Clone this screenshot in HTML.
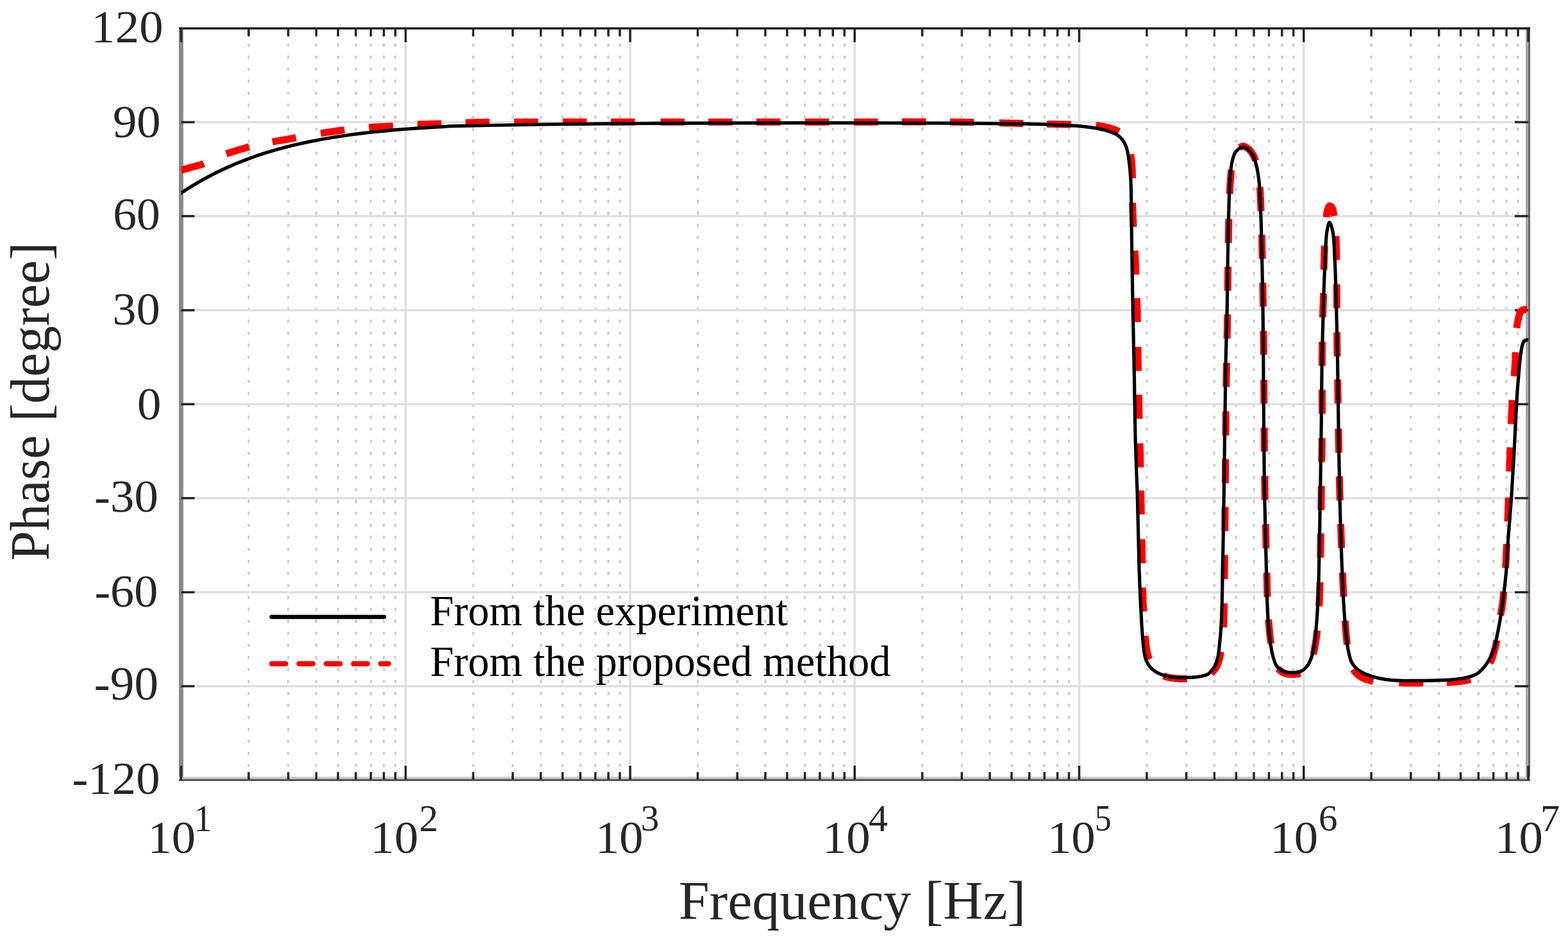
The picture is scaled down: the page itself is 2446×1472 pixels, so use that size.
<!DOCTYPE html>
<html><head><meta charset="utf-8"><title>Phase plot</title>
<style>html,body{margin:0;padding:0;background:#fff;}svg{display:block;}</style>
</head><body>
<svg width="2446" height="1472" viewBox="0 0 2446 1472" font-family='"Liberation Serif", "Times New Roman", serif'>
<rect width="2446" height="1472" fill="#ffffff"/>
<path d="M387.94,49.30V1214.50M449.61,49.30V1214.50M493.37,49.30V1214.50M527.31,49.30V1214.50M555.05,49.30V1214.50M578.50,49.30V1214.50M598.81,49.30V1214.50M616.72,49.30V1214.50M738.19,49.30V1214.50M799.86,49.30V1214.50M843.62,49.30V1214.50M877.56,49.30V1214.50M905.30,49.30V1214.50M928.75,49.30V1214.50M949.06,49.30V1214.50M966.97,49.30V1214.50M1088.44,49.30V1214.50M1150.11,49.30V1214.50M1193.87,49.30V1214.50M1227.81,49.30V1214.50M1255.55,49.30V1214.50M1279.00,49.30V1214.50M1299.31,49.30V1214.50M1317.22,49.30V1214.50M1438.69,49.30V1214.50M1500.36,49.30V1214.50M1544.12,49.30V1214.50M1578.06,49.30V1214.50M1605.80,49.30V1214.50M1629.25,49.30V1214.50M1649.56,49.30V1214.50M1667.47,49.30V1214.50M1788.94,49.30V1214.50M1850.61,49.30V1214.50M1894.37,49.30V1214.50M1928.31,49.30V1214.50M1956.05,49.30V1214.50M1979.50,49.30V1214.50M1999.81,49.30V1214.50M2017.72,49.30V1214.50M2139.19,49.30V1214.50M2200.86,49.30V1214.50M2244.62,49.30V1214.50M2278.56,49.30V1214.50M2306.30,49.30V1214.50M2329.75,49.30V1214.50M2350.06,49.30V1214.50M2367.97,49.30V1214.50" stroke="#cecece" stroke-width="3.3" stroke-dasharray="5 13.72" fill="none"/>
<path d="M632.75,44.00V1216.50M983.00,44.00V1216.50M1333.25,44.00V1216.50M1683.50,44.00V1216.50M2033.75,44.00V1216.50M282.50,190.56H2384.00M282.50,337.12H2384.00M282.50,483.69H2384.00M282.50,630.25H2384.00M282.50,776.81H2384.00M282.50,923.38H2384.00M282.50,1069.94H2384.00" stroke="#dfdfdf" stroke-width="3.5" fill="none"/>
<rect x="279" y="42.5" width="7" height="1175.3" fill="#8a8a8a"/>
<rect x="2380" y="42.5" width="4" height="1175.3" fill="#aaaaaa"/>
<rect x="2384" y="42.5" width="3" height="1175.3" fill="#666666"/>
<rect x="279" y="1211.3" width="2108" height="3.7" fill="#c4c4c4"/>
<rect x="279" y="1215" width="2108" height="2.8" fill="#4a4a4a"/>
<rect x="279" y="42.5" width="2108" height="3.5" fill="#222222"/>
<path d="M282.50,1215.4v-21.5M282.50,44.25v21.5M632.75,1215.4v-21.5M632.75,44.25v21.5M983.00,1215.4v-21.5M983.00,44.25v21.5M1333.25,1215.4v-21.5M1333.25,44.25v21.5M1683.50,1215.4v-21.5M1683.50,44.25v21.5M2033.75,1215.4v-21.5M2033.75,44.25v21.5M2384.00,1215.4v-21.5M2384.00,44.25v21.5M387.94,1215.4v-11.5M387.94,44.25v12.5M449.61,1215.4v-11.5M449.61,44.25v12.5M493.37,1215.4v-11.5M493.37,44.25v12.5M527.31,1215.4v-11.5M527.31,44.25v12.5M555.05,1215.4v-11.5M555.05,44.25v12.5M578.50,1215.4v-11.5M578.50,44.25v12.5M598.81,1215.4v-11.5M598.81,44.25v12.5M616.72,1215.4v-11.5M616.72,44.25v12.5M738.19,1215.4v-11.5M738.19,44.25v12.5M799.86,1215.4v-11.5M799.86,44.25v12.5M843.62,1215.4v-11.5M843.62,44.25v12.5M877.56,1215.4v-11.5M877.56,44.25v12.5M905.30,1215.4v-11.5M905.30,44.25v12.5M928.75,1215.4v-11.5M928.75,44.25v12.5M949.06,1215.4v-11.5M949.06,44.25v12.5M966.97,1215.4v-11.5M966.97,44.25v12.5M1088.44,1215.4v-11.5M1088.44,44.25v12.5M1150.11,1215.4v-11.5M1150.11,44.25v12.5M1193.87,1215.4v-11.5M1193.87,44.25v12.5M1227.81,1215.4v-11.5M1227.81,44.25v12.5M1255.55,1215.4v-11.5M1255.55,44.25v12.5M1279.00,1215.4v-11.5M1279.00,44.25v12.5M1299.31,1215.4v-11.5M1299.31,44.25v12.5M1317.22,1215.4v-11.5M1317.22,44.25v12.5M1438.69,1215.4v-11.5M1438.69,44.25v12.5M1500.36,1215.4v-11.5M1500.36,44.25v12.5M1544.12,1215.4v-11.5M1544.12,44.25v12.5M1578.06,1215.4v-11.5M1578.06,44.25v12.5M1605.80,1215.4v-11.5M1605.80,44.25v12.5M1629.25,1215.4v-11.5M1629.25,44.25v12.5M1649.56,1215.4v-11.5M1649.56,44.25v12.5M1667.47,1215.4v-11.5M1667.47,44.25v12.5M1788.94,1215.4v-11.5M1788.94,44.25v12.5M1850.61,1215.4v-11.5M1850.61,44.25v12.5M1894.37,1215.4v-11.5M1894.37,44.25v12.5M1928.31,1215.4v-11.5M1928.31,44.25v12.5M1956.05,1215.4v-11.5M1956.05,44.25v12.5M1979.50,1215.4v-11.5M1979.50,44.25v12.5M1999.81,1215.4v-11.5M1999.81,44.25v12.5M2017.72,1215.4v-11.5M2017.72,44.25v12.5M2139.19,1215.4v-11.5M2139.19,44.25v12.5M2200.86,1215.4v-11.5M2200.86,44.25v12.5M2244.62,1215.4v-11.5M2244.62,44.25v12.5M2278.56,1215.4v-11.5M2278.56,44.25v12.5M2306.30,1215.4v-11.5M2306.30,44.25v12.5M2329.75,1215.4v-11.5M2329.75,44.25v12.5M2350.06,1215.4v-11.5M2350.06,44.25v12.5M2367.97,1215.4v-11.5M2367.97,44.25v12.5M282.50,190.56h21M2384.00,190.56h-21M282.50,337.12h21M2384.00,337.12h-21M282.50,483.69h21M2384.00,483.69h-21M282.50,630.25h21M2384.00,630.25h-21M282.50,776.81h21M2384.00,776.81h-21M282.50,923.38h21M2384.00,923.38h-21M282.50,1069.94h21M2384.00,1069.94h-21" stroke="#262626" stroke-width="3.5" fill="none"/>
<defs><clipPath id="ax"><rect x="282.5" y="0" width="2101.5" height="1472"/></clipPath></defs>
<g clip-path="url(#ax)">
<path d="M282.0,265.6L284.9,264.8L288.2,263.8L291.2,262.9L294.4,262.0L297.5,261.1L300.5,260.3L303.4,259.5L306.3,258.7L309.2,258.0L312.1,257.2L315.0,256.3L317.8,255.3L318.0,255.2M352.9,239.9L356.0,238.8L358.8,237.9L361.7,237.0L365.1,236.0L368.4,235.0L371.3,234.1L374.2,233.2L377.2,232.3L380.1,231.4L383.1,230.5L386.0,229.7L388.8,228.9M424.9,221.2L428.2,220.6L431.2,220.1L434.3,219.5L437.3,219.0L440.4,218.5L443.4,218.0L446.8,217.4L450.0,216.8L453.3,216.2L456.7,215.6L459.8,215.0L461.8,214.6M500.3,207.9L503.8,207.4L507.0,206.9L510.4,206.4L513.6,205.9L516.9,205.5L520.4,205.0L523.7,204.5L526.9,204.0L530.3,203.5L533.4,203.1L536.8,202.7L537.5,202.6M575.6,198.7L578.7,198.4L581.7,198.2L584.8,198.0L587.8,197.9L590.8,197.7L594.3,197.5L597.8,197.4L601.3,197.2L604.3,197.0L607.3,196.9L610.3,196.7L613.0,196.6M651.2,194.1L654.2,194.0L657.7,193.8L661.1,193.7L664.5,193.6L668.0,193.4L671.4,193.3L674.9,193.2L677.9,193.2L681.0,193.1L684.1,193.0L687.4,192.9L688.7,192.8M726.3,191.4L729.7,191.2L732.8,191.1L735.9,191.0L739.0,190.9L742.0,190.9L745.0,190.8L748.4,190.7L751.8,190.7L755.0,190.6L758.2,190.6L761.4,190.5L763.7,190.5M802.0,190.4L805.3,190.4L808.6,190.4L811.7,190.4L814.8,190.4L817.9,190.3L821.2,190.3L824.5,190.3L827.9,190.3L830.9,190.3L834.0,190.3L837.1,190.3L839.5,190.3M877.8,190.3L881.3,190.3L884.4,190.3L887.6,190.3L890.7,190.3L893.9,190.3L897.1,190.3L900.3,190.3L903.5,190.3L906.8,190.3L910.0,190.3L913.3,190.3L915.3,190.3M952.9,190.3L956.0,190.3L959.3,190.3L962.7,190.3L966.1,190.3L969.4,190.3L972.8,190.3L976.1,190.3L979.5,190.3L982.8,190.3L986.2,190.3L989.5,190.3L990.4,190.3M1030.4,190.3L1033.6,190.3L1036.9,190.3L1040.3,190.3L1043.8,190.3L1047.2,190.3L1050.6,190.3L1054.1,190.3L1057.6,190.3L1061.1,190.3L1064.1,190.3L1067.1,190.3L1067.9,190.3M1105.0,190.3L1108.1,190.3L1111.2,190.3L1114.4,190.3L1117.5,190.3L1120.6,190.3L1123.8,190.3L1126.9,190.3L1130.1,190.3L1133.2,190.3L1136.3,190.3L1139.5,190.3L1142.5,190.3M1179.9,190.3L1183.0,190.3L1186.2,190.3L1189.3,190.3L1192.4,190.3L1195.5,190.3L1198.6,190.3L1201.7,190.3L1204.8,190.3L1207.9,190.3L1211.0,190.3L1214.1,190.3L1217.2,190.3L1217.4,190.3M1255.8,190.3L1259.2,190.3L1262.6,190.3L1266.0,190.3L1269.3,190.3L1272.7,190.3L1276.0,190.3L1279.3,190.3L1282.6,190.3L1285.8,190.3L1289.1,190.3L1292.3,190.3L1293.3,190.3M1331.9,190.3L1335.3,190.3L1338.6,190.3L1341.9,190.3L1345.2,190.3L1348.4,190.3L1351.7,190.2L1355.0,190.2L1358.3,190.2L1361.5,190.2L1364.8,190.2L1368.0,190.2L1369.4,190.2M1406.9,190.1L1410.4,190.1L1413.4,190.1L1416.5,190.1L1419.6,190.1L1422.6,190.1L1425.6,190.1L1429.1,190.1L1432.6,190.1L1436.0,190.1L1439.4,190.1L1442.8,190.1L1444.4,190.1M1481.9,190.2L1485.2,190.3L1488.5,190.3L1491.7,190.3L1494.9,190.3L1498.1,190.4L1501.2,190.4L1504.2,190.5L1507.8,190.5L1511.2,190.5L1514.6,190.6L1517.8,190.7L1519.4,190.7M1558.8,191.6L1561.8,191.7L1565.1,191.8L1568.4,191.9L1571.7,192.0L1575.1,192.0L1578.5,192.1L1581.6,192.2L1584.7,192.3L1587.8,192.3L1590.9,192.4L1594.1,192.5L1596.3,192.5M1633.3,193.4L1636.7,193.5L1640.0,193.5L1643.3,193.6L1646.4,193.7L1649.5,193.7L1652.6,193.8L1656.0,193.9L1659.4,194.0L1662.7,194.0L1665.9,194.1L1669.0,194.1L1670.7,194.2M1709.6,195.5L1713.1,195.9L1716.1,196.4L1719.1,196.9L1722.1,197.5L1725.1,198.1L1728.1,198.9L1731.0,199.6L1734.0,200.5L1737.0,201.4L1739.8,202.4L1742.9,203.8L1745.6,205.2L1745.6,205.2M1763.8,240.6L1764.2,243.6L1764.6,246.8L1765.0,250.2L1765.4,253.7L1765.7,256.9L1765.9,260.1L1766.1,263.4L1766.2,266.5L1766.3,269.8L1766.4,273.1L1766.5,276.5L1766.5,278.0M1766.8,316.3L1766.8,319.6L1766.9,322.8L1767.0,325.9L1767.0,329.0L1767.1,332.0L1767.3,335.5L1767.4,338.6L1767.5,341.6L1767.7,344.6L1767.8,347.7L1768.0,350.7L1768.1,353.7L1768.1,353.7M1770.3,390.9L1770.5,394.0L1770.7,397.0L1770.8,400.1L1771.0,403.1L1771.1,406.1L1771.3,409.1L1771.4,412.6L1771.6,416.0L1771.7,419.5L1771.9,423.0L1772.0,426.5L1772.1,428.3M1773.4,464.9L1773.5,468.1L1773.6,471.1L1773.7,474.1L1773.8,477.1L1773.9,480.1L1774.0,483.1L1774.1,486.1L1774.1,489.1L1774.2,492.1L1774.3,495.1L1774.3,498.1L1774.4,501.1L1774.4,502.3M1775.0,541.0L1775.1,544.2L1775.1,547.2L1775.1,550.2L1775.2,553.2L1775.2,556.2L1775.3,559.2L1775.3,562.2L1775.4,565.2L1775.4,568.2L1775.5,571.2L1775.6,574.2L1775.6,577.2L1775.6,578.4M1776.3,615.5L1776.3,618.8L1776.4,622.3L1776.5,625.7L1776.6,629.2L1776.6,632.7L1776.7,636.2L1776.8,639.2L1776.8,642.3L1776.9,645.3L1777.0,648.3L1777.1,651.3L1777.1,653.0M1778.1,691.3L1778.2,694.5L1778.3,697.5L1778.4,700.5L1778.4,703.5L1778.5,706.5L1778.6,709.5L1778.7,712.5L1778.7,715.5L1778.8,718.5L1778.8,721.5L1778.9,725.0L1779.0,728.5L1779.0,728.7M1779.7,764.8L1779.7,767.9L1779.8,770.9L1779.8,774.0L1779.9,777.0L1779.9,780.0L1780.0,783.0L1780.1,786.5L1780.1,790.0L1780.2,793.4L1780.3,796.9L1780.3,800.4L1780.4,802.2M1781.1,840.8L1781.2,844.0L1781.3,847.0L1781.3,850.0L1781.4,853.0L1781.4,856.0L1781.5,859.0L1781.6,862.0L1781.6,865.0L1781.7,868.1L1781.7,871.1L1781.8,874.2L1781.8,877.2L1781.8,878.2M1782.4,916.3L1782.5,919.3L1782.6,922.7L1782.7,926.1L1782.8,929.4L1782.9,932.7L1783.0,936.1L1783.2,939.3L1783.3,942.6L1783.5,945.8L1783.6,949.0L1783.8,952.2L1783.9,953.7M1786.4,991.4L1786.7,994.6L1787.0,997.9L1787.3,1001.1L1787.6,1004.2L1788.0,1007.7L1788.4,1011.0L1788.9,1014.1L1789.6,1017.6L1790.5,1020.7L1791.4,1023.6L1792.6,1026.8L1793.2,1028.1M1814.8,1053.8L1817.8,1054.9L1820.8,1055.8L1823.8,1056.4L1826.9,1057.0L1830.0,1057.4L1833.0,1057.8L1836.0,1058.1L1839.1,1058.3L1842.1,1058.4L1845.1,1058.4L1848.2,1058.3L1851.2,1058.2L1851.7,1058.2M1889.4,1049.8L1891.7,1047.8L1893.7,1045.6L1895.6,1043.2L1897.3,1040.3L1898.7,1037.5L1899.9,1034.6L1901.0,1031.6L1901.9,1028.6L1902.8,1025.3L1903.4,1022.4L1904.0,1019.4L1904.5,1016.5M1908.5,978.3L1908.6,975.3L1908.8,971.9L1909.0,968.4L1909.1,965.4L1909.2,962.2L1909.3,959.1L1909.4,956.0L1909.5,952.9L1909.5,949.8L1909.6,946.6L1909.6,943.4L1909.6,940.8M1910.0,903.0L1910.0,899.6L1910.1,896.5L1910.1,893.2L1910.1,890.0L1910.2,886.6L1910.2,883.2L1910.2,879.8L1910.3,876.3L1910.3,873.3L1910.3,870.2L1910.4,867.1L1910.4,865.5M1910.7,828.1L1910.8,824.9L1910.8,821.6L1910.8,818.3L1910.9,814.9L1910.9,811.6L1910.9,808.3L1911.0,805.0L1911.0,801.7L1911.0,798.6L1911.0,795.5L1911.1,792.2L1911.1,790.6M1911.4,753.4L1911.4,750.1L1911.4,747.0L1911.5,743.9L1911.5,740.8L1911.5,737.7L1911.5,734.6L1911.6,731.5L1911.6,728.4L1911.6,725.2L1911.6,722.1L1911.7,718.9L1911.7,715.9M1912.0,679.0L1912.0,675.6L1912.0,672.5L1912.1,669.4L1912.1,666.3L1912.1,663.3L1912.2,660.3L1912.2,657.3L1912.2,653.8L1912.3,650.3L1912.3,646.8L1912.3,643.4L1912.3,641.5M1912.8,603.3L1912.9,599.9L1912.9,596.7L1913.0,593.5L1913.0,590.4L1913.1,587.2L1913.1,584.1L1913.2,580.9L1913.2,577.8L1913.3,574.7L1913.4,571.6L1913.4,568.6L1913.5,565.8M1914.1,527.8L1914.2,524.4L1914.3,521.1L1914.3,517.9L1914.4,514.6L1914.4,511.4L1914.5,508.2L1914.5,505.0L1914.6,501.8L1914.6,498.4L1914.7,495.1L1914.7,491.9L1914.7,490.3M1915.2,453.5L1915.2,450.3L1915.2,446.9L1915.3,443.5L1915.3,440.1L1915.4,436.7L1915.4,433.3L1915.5,429.9L1915.5,426.5L1915.6,423.0L1915.6,419.5L1915.7,416.5L1915.7,416.0M1916.2,378.9L1916.2,375.7L1916.3,372.7L1916.3,369.7L1916.4,366.6L1916.5,363.2L1916.5,359.7L1916.6,356.2L1916.7,352.8L1916.7,349.4L1916.8,346.1L1916.9,342.8L1917.0,341.4M1918.2,302.5L1918.4,299.1L1918.5,295.7L1918.7,292.4L1918.9,289.2L1919.1,286.0L1919.3,283.0L1919.5,279.4L1919.8,276.0L1920.1,272.6L1920.4,269.3L1920.6,266.2L1920.8,265.1M1933.6,230.1L1936.4,228.6L1939.5,228.0L1942.8,229.0L1945.6,230.7L1948.1,232.7L1950.5,235.1L1952.4,237.5L1954.0,240.2L1955.5,243.0L1957.0,246.2L1958.2,249.4L1958.6,250.8M1965.3,291.7L1965.6,294.9L1965.8,298.3L1966.0,301.7L1966.1,304.8L1966.3,307.8L1966.4,311.0L1966.5,314.1L1966.7,317.3L1966.8,320.5L1966.9,323.7L1967.0,326.9L1967.1,329.2M1968.3,366.1L1968.4,369.4L1968.5,372.4L1968.5,375.5L1968.6,378.6L1968.7,381.7L1968.8,384.8L1968.8,388.0L1968.9,391.2L1969.0,394.4L1969.1,397.8L1969.1,401.1L1969.2,403.6M1969.9,440.7L1969.9,444.0L1970.0,447.1L1970.0,450.2L1970.1,453.2L1970.1,456.3L1970.2,459.4L1970.2,462.5L1970.3,465.5L1970.3,468.5L1970.4,471.6L1970.4,474.6L1970.5,478.0L1970.5,478.1M1970.9,515.7L1970.9,518.9L1971.0,522.2L1971.0,525.6L1971.0,529.0L1971.1,532.4L1971.1,535.5L1971.1,538.6L1971.1,541.7L1971.2,545.0L1971.2,548.3L1971.2,551.7L1971.2,553.2M1971.6,592.2L1971.6,595.5L1971.6,598.9L1971.6,602.4L1971.6,605.9L1971.7,608.9L1971.7,611.9L1971.7,615.0L1971.7,618.1L1971.7,621.2L1971.8,624.4L1971.8,627.5L1971.8,629.6M1972.0,666.8L1972.1,670.3L1972.1,673.5L1972.1,676.8L1972.1,680.1L1972.2,683.4L1972.2,686.6L1972.2,689.9L1972.2,693.1L1972.3,696.4L1972.3,699.6L1972.3,702.8L1972.3,704.3M1972.7,742.2L1972.8,745.4L1972.8,748.7L1972.9,751.9L1972.9,755.1L1973.0,758.3L1973.0,761.5L1973.1,764.9L1973.1,768.2L1973.2,771.6L1973.2,774.9L1973.3,778.3L1973.3,779.6M1974.2,817.5L1974.3,820.6L1974.3,823.7L1974.4,826.8L1974.5,829.8L1974.6,833.3L1974.7,836.7L1974.8,840.2L1974.8,843.6L1974.9,846.9L1975.0,850.2L1975.1,853.5L1975.2,855.0M1976.1,893.4L1976.2,896.9L1976.3,900.1L1976.3,903.2L1976.4,906.2L1976.5,909.7L1976.6,913.1L1976.6,916.4L1976.7,919.7L1976.8,923.0L1976.9,926.2L1977.0,929.3L1977.1,930.9M1978.8,966.1L1979.0,969.3L1979.2,972.4L1979.5,975.5L1979.8,978.6L1980.1,981.7L1980.4,984.8L1980.7,987.8L1981.0,990.8L1981.4,994.2L1981.9,997.6L1982.4,1001.1L1982.7,1003.4M1993.8,1042.5L1996.2,1045.1L1998.6,1047.0L2001.2,1048.6L2004.4,1050.0L2007.3,1050.8L2010.3,1051.3L2013.5,1051.6L2016.5,1051.6L2019.6,1051.5L2022.7,1051.1L2025.7,1050.5L2028.3,1049.7M2048.9,1020.1L2049.6,1016.9L2050.2,1013.8L2050.8,1010.7L2051.3,1007.6L2051.9,1004.5L2052.4,1001.2L2053.0,997.7L2053.4,994.3L2053.8,991.3L2054.2,988.3L2054.5,985.2L2054.8,983.0M2057.7,945.4L2057.9,942.1L2058.0,938.9L2058.2,935.7L2058.3,932.4L2058.4,929.1L2058.5,925.7L2058.6,922.7L2058.7,919.6L2058.8,916.4L2058.9,913.2L2059.0,909.9L2059.0,907.9M2059.8,869.3L2059.9,865.8L2059.9,862.3L2060.0,859.3L2060.0,856.2L2060.1,853.1L2060.1,850.0L2060.1,846.9L2060.2,843.7L2060.2,840.6L2060.3,837.4L2060.3,834.2L2060.3,831.8M2060.8,795.3L2060.9,792.2L2060.9,789.1L2060.9,786.1L2061.0,783.0L2061.0,780.0L2061.1,776.5L2061.1,773.5L2061.1,770.5L2061.2,767.5L2061.2,764.5L2061.3,761.4L2061.3,758.4L2061.3,757.8M2061.8,720.4L2061.8,717.3L2061.9,714.3L2061.9,711.2L2062.0,708.2L2062.0,705.2L2062.0,702.2L2062.1,699.2L2062.1,695.7L2062.1,692.2L2062.2,688.7L2062.2,685.3L2062.2,682.9M2062.5,645.2L2062.5,642.1L2062.5,639.0L2062.5,635.8L2062.5,632.7L2062.5,629.5L2062.4,626.4L2062.4,623.3L2062.4,620.2L2062.4,617.1L2062.4,614.0L2062.4,610.9L2062.4,607.8L2062.4,607.7M2062.4,570.4L2062.4,567.1L2062.4,564.0L2062.4,560.9L2062.4,557.8L2062.4,554.4L2062.5,551.1L2062.5,547.9L2062.5,544.7L2062.5,541.5L2062.6,538.4L2062.6,535.3L2062.6,532.9M2063.3,494.8L2063.4,491.5L2063.6,488.4L2063.7,485.4L2063.8,481.9L2063.9,478.5L2064.1,475.1L2064.2,471.7L2064.3,468.4L2064.5,464.9L2064.6,461.5L2064.6,458.0L2064.7,457.4M2065.2,420.6L2065.3,417.5L2065.3,414.5L2065.4,411.5L2065.5,408.4L2065.6,405.4L2065.7,402.4L2065.8,399.3L2065.9,396.3L2066.0,393.3L2066.1,389.8L2066.2,386.3L2066.4,383.1M2069.1,338.7L2069.4,335.5L2069.8,332.5L2070.4,329.3L2071.2,326.4L2072.2,323.4L2074.0,321.0L2076.7,322.1L2078.5,324.8L2079.4,327.8L2080.1,331.2L2080.7,334.2L2081.2,337.0M2083.9,368.1L2084.0,371.3L2084.2,374.3L2084.3,377.4L2084.4,380.7L2084.5,384.2L2084.6,387.6L2084.7,390.9L2084.8,393.9L2084.9,397.0L2084.9,400.3L2084.9,403.6L2085.0,405.5M2085.2,443.3L2085.2,446.5L2085.2,449.7L2085.2,452.8L2085.3,455.9L2085.3,459.0L2085.3,462.0L2085.3,465.0L2085.3,468.0L2085.4,471.1L2085.4,474.1L2085.4,477.1L2085.4,480.2L2085.4,480.7M2085.6,518.3L2085.7,521.4L2085.7,524.9L2085.7,528.3L2085.7,531.7L2085.8,535.1L2085.8,538.6L2085.9,541.6L2085.9,545.0L2085.9,548.4L2086.0,551.7L2086.0,554.9L2086.0,555.7M2086.7,591.8L2086.7,595.1L2086.8,598.1L2086.8,601.5L2086.9,604.6L2086.9,607.7L2087.0,611.0L2087.0,614.3L2087.1,617.7L2087.1,620.7L2087.2,623.9L2087.2,627.0L2087.3,629.3M2087.9,668.3L2088.0,671.6L2088.0,674.7L2088.1,677.9L2088.1,681.1L2088.2,684.3L2088.2,687.5L2088.3,690.8L2088.4,694.0L2088.4,697.3L2088.5,700.5L2088.5,703.8L2088.6,705.8M2089.3,742.8L2089.4,745.9L2089.5,749.0L2089.5,752.2L2089.6,755.3L2089.7,758.4L2089.8,761.5L2089.9,764.6L2089.9,767.6L2090.0,770.7L2090.1,774.1L2090.2,777.6L2090.3,780.3M2091.4,817.2L2091.5,820.6L2091.7,823.9L2091.8,827.1L2091.9,830.4L2092.0,833.7L2092.1,837.0L2092.2,840.3L2092.4,843.5L2092.5,846.8L2092.6,850.1L2092.7,853.3L2092.8,854.6M2094.3,892.9L2094.4,896.0L2094.6,899.4L2094.7,902.8L2094.8,906.1L2095.0,909.3L2095.1,912.6L2095.3,915.7L2095.4,918.8L2095.6,921.8L2095.7,925.2L2095.9,928.5L2096.0,930.4M2098.2,967.8L2098.4,970.8L2098.6,974.0L2098.9,977.2L2099.1,980.3L2099.4,983.4L2099.7,986.5L2100.0,989.6L2100.3,992.8L2100.6,996.0L2100.9,999.2L2101.2,1002.3L2101.5,1005.1M2110.9,1043.7L2112.8,1046.4L2114.7,1048.8L2116.8,1050.9L2119.1,1052.9L2121.6,1054.7L2124.4,1056.4L2127.4,1057.9L2130.6,1059.2L2133.5,1060.1L2136.5,1061.0L2139.6,1061.8L2142.1,1062.4M2182.5,1064.7L2185.8,1064.8L2189.2,1064.9L2192.6,1064.9L2196.1,1065.0L2199.1,1065.0L2202.3,1065.0L2205.5,1065.0L2208.7,1065.0L2212.1,1065.0L2215.2,1064.9L2218.2,1064.9L2220.0,1064.9M2256.8,1064.0L2260.2,1063.9L2263.6,1063.7L2267.0,1063.5L2270.3,1063.3L2273.6,1063.0L2276.6,1062.6L2279.7,1062.2L2282.9,1061.8L2285.9,1061.3L2288.9,1060.8L2292.2,1059.9L2293.9,1059.4M2324.0,1034.0L2325.6,1030.9L2326.8,1028.2L2327.9,1025.4L2328.8,1022.5L2329.8,1019.5L2330.6,1016.5L2331.6,1013.2L2332.5,1009.9L2333.2,1006.9L2333.9,1003.6L2334.5,1000.4L2334.9,998.3M2340.8,959.5L2341.3,956.4L2341.9,952.9L2342.5,949.6L2343.1,946.4L2343.6,943.3L2344.0,940.2L2344.4,936.9L2344.7,933.7L2345.0,930.3L2345.3,927.2L2345.5,924.1L2345.7,922.3M2348.4,885.7L2348.7,882.4L2348.9,879.4L2349.1,876.4L2349.2,873.2L2349.4,869.9L2349.6,866.6L2349.8,863.6L2349.9,860.5L2350.1,857.3L2350.2,854.0L2350.4,850.7L2350.5,848.3M2351.9,813.2L2352.0,810.1L2352.1,806.9L2352.2,803.8L2352.4,800.7L2352.5,797.6L2352.6,794.5L2352.7,791.0L2352.8,787.6L2353.0,784.1L2353.1,781.1L2353.2,778.1L2353.2,775.8M2354.5,735.2L2354.6,732.2L2354.8,728.7L2354.9,725.3L2355.0,721.8L2355.1,718.4L2355.2,715.0L2355.4,711.9L2355.5,708.7L2355.6,705.6L2355.7,702.5L2355.8,699.3L2355.9,697.7M2357.3,661.3L2357.4,658.1L2357.6,654.8L2357.7,651.6L2357.9,648.4L2358.0,645.2L2358.2,642.0L2358.4,638.8L2358.6,635.7L2358.7,632.6L2358.9,629.6L2359.1,626.2L2359.3,623.8M2362.0,586.7L2362.3,583.4L2362.5,580.0L2362.8,577.0L2363.0,573.9L2363.2,570.7L2363.4,567.5L2363.6,564.3L2363.8,560.8L2363.9,557.8L2364.0,554.6L2364.1,551.4L2364.2,549.3M2366.0,511.7L2366.4,508.3L2366.9,505.0L2367.4,502.0L2368.1,498.8L2368.8,495.8L2369.6,492.7L2370.4,489.5L2371.7,486.4L2374.0,484.1L2377.0,482.8L2380.0,482.7L2381.9,483.0" stroke="#ff0000" stroke-width="11" fill="none" stroke-linejoin="round"/>
<path d="M276.50,304.83C278.50,303.52 284.48,299.52 288.50,296.95C292.48,294.41 296.48,291.92 300.50,289.50C304.48,287.10 308.48,284.76 312.50,282.48C316.49,280.22 320.49,278.02 324.50,275.89C328.49,273.77 332.49,271.70 336.50,269.70C340.49,267.71 344.49,265.79 348.50,263.91C352.49,262.05 356.49,260.25 360.50,258.51C364.49,256.77 368.49,255.09 372.50,253.46C376.49,251.84 380.49,250.28 384.50,248.76C388.49,247.25 392.49,245.80 396.50,244.39C400.49,242.98 404.49,241.63 408.50,240.32C412.49,239.02 416.49,237.76 420.50,236.54C424.49,235.33 428.49,234.16 432.50,233.04C436.49,231.91 440.50,230.83 444.50,229.78C448.50,228.74 452.50,227.74 456.50,226.77C460.50,225.80 464.50,224.87 468.50,223.97C472.50,223.08 476.50,222.22 480.50,221.38C484.50,220.55 488.50,219.76 492.50,218.99C496.50,218.22 500.50,217.48 504.50,216.77C508.50,216.06 512.50,215.37 516.50,214.71C520.50,214.05 524.50,213.42 528.50,212.81C532.50,212.20 536.50,211.62 540.50,211.05C544.50,210.49 548.50,209.95 552.50,209.43C556.50,208.91 560.50,208.41 564.50,207.92C568.50,207.44 572.50,206.98 576.50,206.53C580.50,206.09 584.50,205.66 588.50,205.25C592.50,204.83 596.50,204.44 600.50,204.06C604.50,203.67 608.50,203.31 612.50,202.96C616.50,202.60 620.50,202.27 624.50,201.94C628.50,201.61 632.50,201.30 636.50,201.00C640.50,200.70 644.50,200.41 648.50,200.13C652.50,199.85 656.50,199.59 660.50,199.33C664.50,199.07 668.50,198.82 672.50,198.59C676.50,198.35 680.50,198.12 684.50,197.90C688.50,197.68 693.70,197.53 696.50,197.27C698.02,197.13 698.11,196.95 700.00,196.80C707.82,196.20 738.44,195.92 760.60,195.50C787.51,194.99 816.37,194.45 850.00,194.00C893.57,193.42 950.00,192.85 1000.00,192.50C1050.00,192.15 1100.00,192.03 1150.00,191.90C1200.00,191.77 1250.00,191.68 1300.00,191.70C1350.00,191.72 1400.00,191.75 1450.00,192.00C1500.00,192.25 1561.26,192.37 1600.00,193.20C1624.51,193.73 1643.68,194.50 1660.00,195.30C1671.25,195.85 1679.44,196.19 1688.50,197.10C1696.81,197.94 1704.85,198.95 1712.30,200.40C1719.03,201.71 1725.72,203.23 1731.30,205.20C1735.96,206.84 1740.24,208.49 1743.70,210.90C1746.77,213.03 1749.21,215.73 1751.30,218.50C1753.30,221.15 1754.83,224.09 1756.10,227.10C1757.37,230.12 1758.07,232.86 1758.90,236.60C1760.06,241.81 1761.00,248.86 1761.80,255.60C1762.71,263.21 1763.34,269.10 1763.90,280.00C1765.02,302.03 1764.95,346.58 1765.50,380.00C1766.05,413.58 1766.56,447.50 1767.20,481.00C1767.83,514.17 1768.67,546.92 1769.30,580.00C1769.94,613.25 1770.15,647.16 1771.00,680.00C1771.83,711.90 1773.32,741.35 1774.30,774.30C1775.38,810.57 1775.92,854.33 1777.10,888.60C1778.07,916.63 1779.41,945.38 1780.50,965.00C1781.18,977.30 1781.68,985.67 1782.50,995.00C1783.22,1003.18 1783.84,1011.59 1785.00,1018.00C1785.86,1022.71 1786.56,1026.38 1788.10,1030.10C1789.57,1033.65 1791.61,1037.12 1793.90,1039.90C1796.02,1042.48 1798.35,1044.47 1801.20,1046.40C1804.46,1048.61 1808.36,1050.58 1812.60,1052.10C1817.46,1053.84 1823.43,1055.05 1828.90,1055.80C1834.30,1056.54 1839.77,1056.53 1845.20,1056.60C1850.63,1056.67 1856.47,1056.61 1861.50,1056.20C1865.87,1055.84 1869.81,1055.35 1873.70,1054.50C1877.39,1053.69 1881.19,1053.16 1884.30,1051.30C1887.48,1049.40 1890.30,1046.15 1892.50,1043.10C1894.64,1040.13 1896.08,1036.82 1897.40,1033.30C1898.82,1029.52 1899.79,1025.49 1900.60,1021.10C1901.53,1016.09 1901.80,1010.69 1902.40,1004.80C1903.10,997.84 1903.91,990.76 1904.50,982.00C1905.30,970.13 1905.73,958.87 1906.30,940.00C1907.47,901.05 1908.44,822.31 1909.40,760.90C1910.42,695.86 1911.19,611.62 1912.20,560.00C1912.84,527.63 1913.67,507.86 1914.20,481.00C1914.75,453.06 1914.94,421.61 1915.40,395.50C1915.79,373.43 1916.08,354.76 1916.70,334.40C1917.32,314.03 1917.60,289.04 1919.10,273.30C1920.05,263.30 1920.99,255.55 1922.80,248.90C1924.12,244.04 1925.07,239.97 1927.70,236.70C1930.33,233.43 1934.99,229.54 1938.60,229.30C1941.89,229.08 1945.62,231.76 1948.40,234.20C1951.46,236.89 1953.82,241.04 1955.80,245.20C1958.01,249.85 1959.27,255.10 1960.60,261.00C1962.23,268.22 1963.33,275.91 1964.30,285.50C1965.66,298.98 1966.12,317.19 1966.80,334.40C1967.56,353.63 1968.00,373.43 1968.50,395.50C1969.09,421.61 1969.61,453.06 1970.00,481.00C1970.37,507.85 1970.51,527.63 1970.80,560.00C1971.27,611.62 1971.48,702.64 1972.40,760.90C1973.11,805.76 1974.41,847.93 1975.20,880.00C1975.73,901.74 1976.00,918.55 1976.60,934.70C1977.08,947.55 1977.48,958.30 1978.30,969.30C1979.05,979.38 1979.96,989.13 1981.20,998.20C1982.31,1006.35 1983.30,1014.24 1985.20,1021.30C1986.89,1027.57 1988.40,1034.23 1991.60,1038.60C1994.30,1042.30 1997.96,1044.96 2002.00,1046.70C2006.34,1048.57 2012.21,1049.06 2017.00,1049.00C2021.41,1048.94 2026.00,1048.48 2029.70,1046.70C2033.31,1044.96 2036.39,1041.97 2039.00,1038.60C2041.92,1034.83 2044.06,1030.00 2045.90,1024.80C2048.06,1018.69 2049.28,1011.54 2050.50,1004.00C2051.93,995.19 2052.67,984.74 2053.50,975.10C2054.33,965.47 2054.93,956.96 2055.50,946.20C2056.22,932.60 2056.68,918.98 2057.20,900.00C2058.04,869.55 2058.74,820.83 2059.40,781.00C2060.07,740.84 2060.72,698.41 2061.20,660.00C2061.63,625.08 2061.73,585.00 2062.20,560.00C2062.48,545.00 2062.83,537.57 2063.20,524.00C2063.68,506.33 2064.12,483.35 2064.80,463.00C2065.48,442.61 2066.34,420.12 2067.30,401.80C2068.08,386.85 2068.16,371.13 2069.90,361.10C2070.95,355.04 2072.48,346.85 2074.00,346.80C2075.54,346.75 2077.81,355.00 2079.10,361.10C2081.21,371.09 2081.29,386.85 2082.10,401.80C2083.09,420.12 2083.60,442.62 2084.20,463.00C2084.80,483.35 2085.29,506.33 2085.70,524.00C2086.02,537.57 2086.17,542.90 2086.50,560.00C2087.32,602.36 2088.30,713.39 2090.10,781.00C2091.63,838.36 2093.87,902.89 2096.00,940.00C2097.15,960.03 2098.25,973.00 2099.60,986.20C2100.62,996.15 2101.25,1004.13 2102.90,1012.30C2104.41,1019.74 2105.68,1027.60 2108.80,1033.30C2111.44,1038.13 2114.77,1041.70 2119.20,1045.00C2124.42,1048.89 2131.33,1051.72 2138.90,1054.20C2148.27,1057.27 2160.15,1059.47 2171.60,1060.70C2184.02,1062.03 2197.73,1061.40 2210.80,1061.40C2223.87,1061.40 2237.53,1061.42 2250.00,1060.70C2261.43,1060.04 2273.34,1059.37 2282.80,1057.50C2290.25,1056.03 2296.81,1054.74 2302.40,1051.60C2307.58,1048.68 2311.66,1044.41 2315.50,1039.80C2319.59,1034.90 2323.26,1028.22 2326.00,1022.80C2328.31,1018.23 2329.79,1014.50 2331.30,1009.60C2333.09,1003.78 2334.20,996.85 2335.60,990.00C2337.14,982.51 2338.59,975.56 2340.10,966.40C2342.18,953.78 2344.74,934.77 2346.40,921.20C2347.76,910.13 2348.66,902.35 2349.60,891.00C2350.81,876.41 2351.37,858.70 2352.60,840.90C2354.00,820.57 2356.21,796.94 2357.70,775.60C2359.13,755.11 2360.30,734.97 2361.40,715.30C2362.45,696.47 2363.29,677.48 2364.20,660.00C2365.02,644.23 2365.70,628.48 2366.60,615.00C2367.33,603.98 2368.16,594.73 2369.00,585.00C2369.80,575.76 2370.45,566.19 2371.50,558.00C2372.38,551.10 2373.19,543.78 2374.60,539.00C2375.51,535.92 2376.07,533.26 2377.80,531.70C2379.40,530.25 2382.18,530.05 2384.30,529.60C2386.24,529.19 2389.05,529.10 2390.00,529.00" stroke="#000000" stroke-width="5.2" fill="none" stroke-linejoin="round"/>
</g>
<g>
<text transform="translate(142.35,65.95) scale(1.0300,1.0000)" font-size="72.7" fill="#262626">120</text>
<text transform="translate(175.92,214.15) scale(1.0300,1.0000)" font-size="72.7" fill="#262626">90</text>
<text transform="translate(176.13,357.86) scale(1.0300,1.0002)" font-size="71.5" fill="#262626">60</text>
<text transform="translate(175.59,505.95) scale(1.0300,0.9994)" font-size="72.0" fill="#262626">30</text>
<text transform="translate(214.04,653.74) scale(1.0300,1.0007)" font-size="72.8" fill="#262626">0</text>
<text transform="translate(147.02,798.35) scale(1.0300,1.0000)" font-size="72.7" fill="#262626">-30</text>
<text transform="translate(147.38,945.85) scale(1.0300,1.0001)" font-size="72.1" fill="#262626">-60</text>
<text transform="translate(146.69,1090.84) scale(1.0300,1.0006)" font-size="73.1" fill="#262626">-90</text>
<text transform="translate(112.40,1238.35) scale(1.0300,1.0000)" font-size="72.7" fill="#262626">-120</text>
<text transform="translate(230.43,1330.15) scale(1.0300,0.9993)" font-size="72.6" fill="#262626">10</text>
<text transform="translate(302.79,1295.66) scale(0.9578,0.9995)" font-size="58.3" fill="#262626">1</text>
<text transform="translate(577.83,1330.15) scale(1.0300,0.9993)" font-size="72.6" fill="#262626">10</text>
<text transform="translate(653.70,1295.66) scale(1.0300,0.9999)" font-size="58.1" fill="#262626">2</text>
<text transform="translate(928.63,1330.15) scale(1.0300,0.9993)" font-size="72.6" fill="#262626">10</text>
<text transform="translate(999.44,1295.08) scale(1.0057,1.0005)" font-size="57.2" fill="#262626">3</text>
<text transform="translate(1282.93,1330.15) scale(1.0300,0.9993)" font-size="72.6" fill="#262626">10</text>
<text transform="translate(1355.10,1295.66) scale(1.0281,1.0008)" font-size="58.4" fill="#262626">4</text>
<text transform="translate(1633.98,1330.15) scale(1.0300,0.9993)" font-size="72.6" fill="#262626">10</text>
<text transform="translate(1707.80,1295.08) scale(0.8952,1.0005)" font-size="57.8" fill="#262626">5</text>
<text transform="translate(1981.28,1330.15) scale(1.0300,0.9993)" font-size="72.6" fill="#262626">10</text>
<text transform="translate(2056.92,1295.08) scale(1.0300,1.0005)" font-size="57.2" fill="#262626">6</text>
<text transform="translate(2332.08,1330.15) scale(1.0300,0.9993)" font-size="72.6" fill="#262626">10</text>
<text transform="translate(2403.10,1295.66) scale(1.0300,1.0003)" font-size="58.7" fill="#262626">7</text>
</g>
<g>
<text transform="translate(76,874.4) rotate(-90) scale(0.9767,1.0116)" font-size="86" fill="#262626">Phase [degree]</text>
<text transform="translate(1058.8,1433) scale(1.0047,0.9942)" font-size="85.5" fill="#262626">Frequency [Hz]</text>
</g>
<path d="M423.6,962H599.2" stroke="#000" stroke-width="6.5" stroke-linecap="round"/>
<path d="M424,1035H606" stroke="#ff0000" stroke-width="8" stroke-linecap="round" stroke-dasharray="21.5 21"/>
<text transform="translate(671,975) scale(0.9779,1)" font-size="68" fill="#000">From the experiment</text>
<text transform="translate(671,1054.1) scale(0.9779,1)" font-size="68" fill="#000">From the proposed method</text>
</svg>
</body></html>
